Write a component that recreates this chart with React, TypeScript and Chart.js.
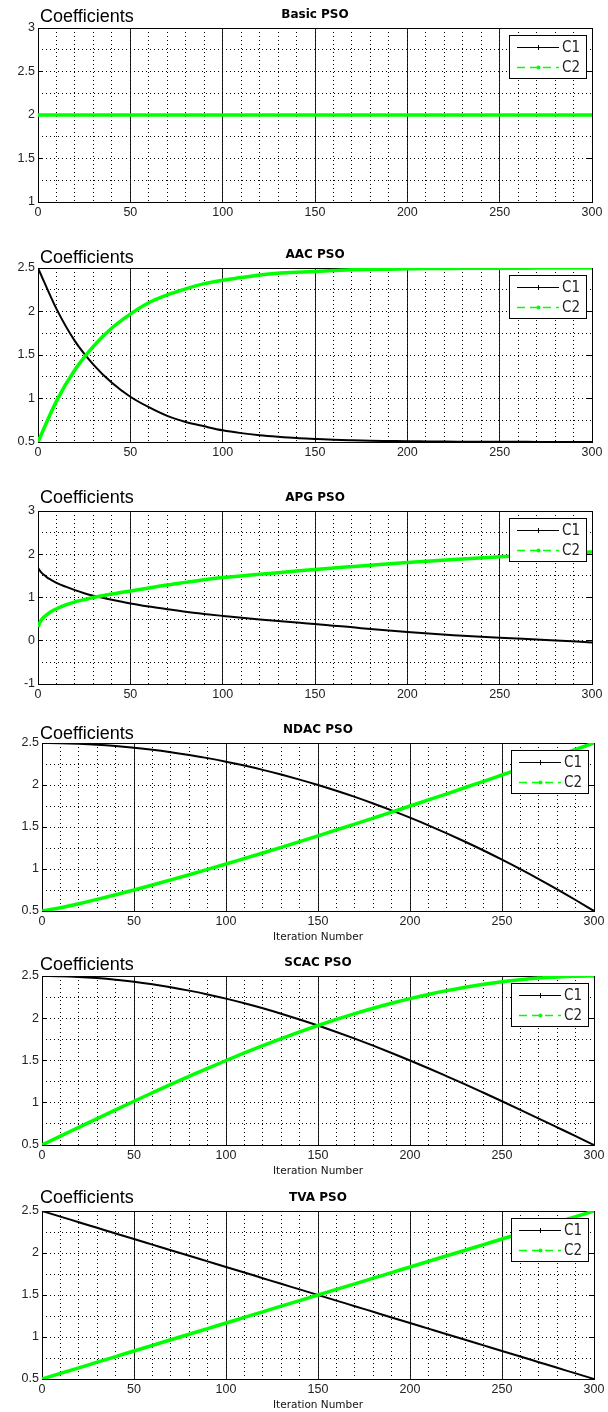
import React, { useEffect, useRef } from "react";
import { Chart, registerables } from "chart.js";

Chart.register(...registerables);

// ---------------- data ----------------
const TITLES = ["Basic PSO", "AAC PSO", "APG PSO", "NDAC PSO", "SCAC PSO", "TVA PSO"];
const SERIES_NAMES = ["C1", "C2"];
const Y_LABEL = "Coefficients";
const X_LABEL = "Iteration Number";

const ITER = [0, 10, 20, 30, 40, 50, 60, 70, 80, 90, 100, 110, 120, 130, 140, 150, 160, 170, 180, 190, 200, 210, 220, 230, 240, 250, 260, 270, 280, 290, 300];

const BASIC_C1 = [2, 2, 2, 2, 2, 2, 2, 2, 2, 2, 2, 2, 2, 2, 2, 2, 2, 2, 2, 2, 2, 2, 2, 2, 2, 2, 2, 2, 2, 2, 2];
const BASIC_C2 = [2, 2, 2, 2, 2, 2, 2, 2, 2, 2, 2, 2, 2, 2, 2, 2, 2, 2, 2, 2, 2, 2, 2, 2, 2, 2, 2, 2, 2, 2, 2];

const AAC_C1 = [2.5, 2.03, 1.66, 1.39, 1.18, 1.02, 0.9, 0.8, 0.73, 0.68, 0.634, 0.602, 0.578, 0.56, 0.545, 0.535, 0.526, 0.52, 0.515, 0.512, 0.509, 0.507, 0.505, 0.504, 0.503, 0.502, 0.502, 0.501, 0.501, 0.501, 0.5];
const AAC_C2 = [0.5, 0.97, 1.33, 1.6, 1.81, 1.97, 2.1, 2.19, 2.26, 2.32, 2.36, 2.39, 2.42, 2.44, 2.45, 2.46, 2.47, 2.48, 2.484, 2.487, 2.49, 2.493, 2.494, 2.496, 2.497, 2.497, 2.498, 2.499, 2.499, 2.499, 2.5];

const APG_ITER = [0, 1, 2, 3, 5, 7, 10, 15, 20, 25, 30, 40, 50, 60, 70, 80, 90, 100, 120, 140, 150, 175, 200, 225, 250, 275, 300];
const APG_C1 = [1.69, 1.62, 1.57, 1.53, 1.46, 1.41, 1.34, 1.25, 1.17, 1.1, 1.04, 0.95, 0.86, 0.79, 0.73, 0.67, 0.62, 0.575, 0.49, 0.42, 0.39, 0.29, 0.2, 0.13, 0.07, 0.02, -0.04];
const APG_C2 = [0.32, 0.42, 0.49, 0.54, 0.61, 0.67, 0.74, 0.83, 0.9, 0.95, 1.0, 1.08, 1.15, 1.22, 1.29, 1.35, 1.41, 1.46, 1.54, 1.61, 1.65, 1.73, 1.81, 1.88, 1.94, 2.0, 2.05];

const NDAC_C1 = [2.5, 2.498, 2.491, 2.48, 2.464, 2.444, 2.42, 2.391, 2.358, 2.32, 2.278, 2.231, 2.18, 2.124, 2.064, 2.0, 1.931, 1.858, 1.78, 1.698, 1.611, 1.52, 1.424, 1.324, 1.22, 1.111, 0.998, 0.88, 0.758, 0.631, 0.5];
const NDAC_C2 = [0.5, 0.539, 0.586, 0.638, 0.693, 0.75, 0.809, 0.87, 0.932, 0.995, 1.059, 1.125, 1.191, 1.258, 1.326, 1.395, 1.465, 1.535, 1.606, 1.677, 1.75, 1.822, 1.895, 1.97, 2.044, 2.119, 2.194, 2.27, 2.346, 2.423, 2.5];

const SCAC_C1 = [2.5, 2.497, 2.489, 2.475, 2.456, 2.432, 2.402, 2.367, 2.327, 2.282, 2.232, 2.177, 2.118, 2.054, 1.986, 1.914, 1.838, 1.759, 1.676, 1.589, 1.5, 1.408, 1.313, 1.217, 1.118, 1.018, 0.916, 0.813, 0.709, 0.605, 0.5];
const SCAC_C2 = [0.5, 0.605, 0.709, 0.813, 0.916, 1.018, 1.118, 1.217, 1.313, 1.408, 1.5, 1.589, 1.676, 1.759, 1.838, 1.914, 1.986, 2.054, 2.118, 2.177, 2.232, 2.282, 2.327, 2.367, 2.402, 2.432, 2.456, 2.475, 2.489, 2.497, 2.5];

const TVA_C1 = [2.5, 2.433, 2.367, 2.3, 2.233, 2.167, 2.1, 2.033, 1.967, 1.9, 1.833, 1.767, 1.7, 1.633, 1.567, 1.5, 1.433, 1.367, 1.3, 1.233, 1.167, 1.1, 1.033, 0.967, 0.9, 0.833, 0.767, 0.7, 0.633, 0.567, 0.5];
const TVA_C2 = [0.5, 0.567, 0.633, 0.7, 0.767, 0.833, 0.9, 0.967, 1.033, 1.1, 1.167, 1.233, 1.3, 1.367, 1.433, 1.5, 1.567, 1.633, 1.7, 1.767, 1.833, 1.9, 1.967, 2.033, 2.1, 2.167, 2.233, 2.3, 2.367, 2.433, 2.5];

// tick values
const X_MAJOR = [0, 50, 100, 150, 200, 250, 300];
const X_MINOR = [0, 10, 20, 30, 40, 50, 60, 70, 80, 90, 100, 110, 120, 130, 140, 150, 160, 170, 180, 190, 200, 210, 220, 230, 240, 250, 260, 270, 280, 290, 300];
const Y_MAJOR_BASIC = [1, 1.5, 2, 2.5, 3];
const Y_MINOR_BASIC = [1, 1.25, 1.5, 1.75, 2, 2.25, 2.5, 2.75, 3];
const Y_MAJOR_STD = [0.5, 1, 1.5, 2, 2.5];
const Y_MINOR_STD = [0.5, 0.75, 1, 1.25, 1.5, 1.75, 2, 2.25, 2.5];
const Y_MAJOR_APG = [-1, 0, 1, 2, 3];
const Y_MINOR_APG = [-1, -0.5, 0, 0.5, 1, 1.5, 2, 2.5, 3];

// ---------------- layout ----------------
const PAD_TOP = 28;
const TICK_FONT = { family: "'Liberation Sans', Arial, sans-serif", size: 12.5 };
const GREEN = "#00ff00";

const PANELS = [
  { title: TITLES[0], iter: ITER, c1: BASIC_C1, c2: BASIC_C2, yMajor: Y_MAJOR_BASIC, yMinor: Y_MINOR_BASIC, plotTop: 28, plotH: 174, left: 38, right: 592, axisH: 22, xTitle: false, coefDy: -6.3 },
  { title: TITLES[1], iter: ITER, c1: AAC_C1, c2: AAC_C2, yMajor: Y_MAJOR_STD, yMinor: Y_MINOR_STD, plotTop: 268, plotH: 174, left: 38, right: 592, axisH: 22, xTitle: false, coefDy: -4.7 },
  { title: TITLES[2], iter: APG_ITER, c1: APG_C1, c2: APG_C2, yMajor: Y_MAJOR_APG, yMinor: Y_MINOR_APG, plotTop: 511, plotH: 173, left: 38, right: 592, axisH: 22, xTitle: false, coefDy: -8 },
  { title: TITLES[3], iter: ITER, c1: NDAC_C1, c2: NDAC_C2, yMajor: Y_MAJOR_STD, yMinor: Y_MINOR_STD, plotTop: 743, plotH: 168, left: 42, right: 594, axisH: 33, xTitle: true, coefDy: -3.7 },
  { title: TITLES[4], iter: ITER, c1: SCAC_C1, c2: SCAC_C2, yMajor: Y_MAJOR_STD, yMinor: Y_MINOR_STD, plotTop: 976, plotH: 169, left: 42, right: 594, axisH: 33, xTitle: true, coefDy: -6 },
  { title: TITLES[5], iter: ITER, c1: TVA_C1, c2: TVA_C2, yMajor: Y_MAJOR_STD, yMinor: Y_MINOR_STD, plotTop: 1211, plotH: 168, left: 42, right: 594, axisH: 33, xTitle: true, coefDy: -7.7 },
];

type PanelDef = (typeof PANELS)[number];

const align = (v: number) => Math.round(v - 0.5) + 0.5;

function makeFramePlugin(p: PanelDef) {
  return {
    id: "matlabFrame",
    beforeDatasetsDraw(chart: any) {
      const { ctx, chartArea: ca } = chart;
      const ys = chart.scales.y;
      ctx.save();
      ctx.setLineDash([]);
      ctx.strokeStyle = "#000";
      ctx.lineWidth = 1;
      ctx.beginPath();
      for (const v of p.yMajor) {
        const py = align(ys.getPixelForValue(v));
        ctx.moveTo(ca.left, py);
        ctx.lineTo(ca.left + 5, py);
        ctx.moveTo(ca.right - 5, py);
        ctx.lineTo(ca.right, py);
      }
      ctx.stroke();
      const L = align(ca.left), R = align(ca.right), T = align(ca.top), B = align(ca.bottom);
      ctx.strokeRect(L, T, R - L, B - T);

      ctx.fillStyle = "#000";
      ctx.textBaseline = "alphabetic";
      ctx.textAlign = "center";
      ctx.font = "bold 12px 'DejaVu Sans', sans-serif";
      ctx.fillText(p.title, (ca.left + ca.right) / 2, ca.top - 10.5);
      ctx.textAlign = "left";
      ctx.font = "18px 'Liberation Sans', Arial, sans-serif";
      ctx.fillText(Y_LABEL, 40, ca.top + p.coefDy);
      ctx.restore();
    },
    afterDatasetsDraw(chart: any) {
      const { ctx, chartArea: ca } = chart;
      const lw = 77, lh = 43;
      const lx = Math.round(ca.right) - 6 - lw;
      const ly = Math.round(ca.top) + 7;
      ctx.save();
      ctx.setLineDash([]);
      ctx.fillStyle = "#fff";
      ctx.fillRect(lx, ly, lw, lh);
      ctx.strokeStyle = "#000";
      ctx.lineWidth = 1;
      ctx.strokeRect(lx + 0.5, ly + 0.5, lw, lh);
      const rows = [
        { y: ly + 12.5, color: "#000", dash: [] as number[], width: 1, marker: "plus", label: SERIES_NAMES[0] },
        { y: ly + 32.5, color: GREEN, dash: [8, 5], width: 1.5, marker: "dot", label: SERIES_NAMES[1] },
      ];
      for (const r of rows) {
        ctx.strokeStyle = r.color;
        ctx.lineWidth = r.width;
        ctx.setLineDash(r.dash);
        ctx.beginPath();
        ctx.moveTo(lx + 8, r.y);
        ctx.lineTo(lx + 50, r.y);
        ctx.stroke();
        ctx.setLineDash([]);
        const mx = lx + 29.5;
        if (r.marker === "plus") {
          ctx.lineWidth = 1;
          ctx.beginPath();
          ctx.moveTo(mx, r.y - 2.5);
          ctx.lineTo(mx, r.y + 2.5);
          ctx.stroke();
        } else {
          ctx.fillStyle = r.color;
          ctx.beginPath();
          ctx.arc(mx, r.y, 2, 0, Math.PI * 2);
          ctx.fill();
        }
        ctx.fillStyle = "#222";
        ctx.font = "15px 'Liberation Sans Narrow', 'DejaVu Sans Condensed', 'Liberation Sans', Arial, sans-serif";
        ctx.textAlign = "left";
        ctx.textBaseline = "middle";
        ctx.fillText(r.label, lx + 53, r.y + 0.5);
      }
      ctx.restore();
    },
  };
}

function Panel({ p }: { p: PanelDef }) {
  const ref = useRef<HTMLCanvasElement | null>(null);
  const h = PAD_TOP + p.plotH + p.axisH;
  const top = p.plotTop - PAD_TOP;

  useEffect(() => {
    if (!ref.current) return;
    const chart = new Chart(ref.current, {
      type: "line",
      data: {
        datasets: [
          {
            label: SERIES_NAMES[0],
            data: p.iter.map((t, i) => ({ x: t, y: p.c1[i] })),
            borderColor: "#000",
            backgroundColor: "#000",
            borderWidth: 2,
            pointRadius: 0,
            cubicInterpolationMode: "monotone",
            order: 2,
            xAxisID: "x",
            yAxisID: "y",
          },
          {
            label: SERIES_NAMES[1],
            data: p.iter.map((t, i) => ({ x: t, y: p.c2[i] })),
            borderColor: GREEN,
            backgroundColor: GREEN,
            borderWidth: 3.5,
            pointRadius: 0,
            cubicInterpolationMode: "monotone",
            order: 1,
            xAxisID: "x",
            yAxisID: "y",
          },
        ],
      },
      options: {
        responsive: false,
        maintainAspectRatio: false,
        animation: false,
        events: [],
        layout: { padding: { top: PAD_TOP, right: 608 - p.right, left: 0, bottom: 0 } },
        plugins: {
          legend: { display: false },
          title: { display: false },
          tooltip: { enabled: false },
        },
        scales: {
          x: {
            type: "linear",
            position: "bottom",
            min: 0,
            max: 300,
            afterBuildTicks: (s: any) => {
              s.ticks = X_MAJOR.map((v) => ({ value: v }));
            },
            ticks: {
              autoSkip: false,
              maxRotation: 0,
              padding: 3,
              color: "#222",
              font: TICK_FONT,
              callback: (v: any) => String(v),
            },
            grid: { color: "#222", lineWidth: 1, drawTicks: false },
            border: { display: false },
            title: {
              display: p.xTitle,
              text: X_LABEL,
              color: "#111",
              font: { family: "'DejaVu Sans', sans-serif", size: 10.5 },
              padding: { top: 0, bottom: 0 },
            },
            afterFit: (s: any) => {
              s.height = p.axisH;
            },
          },
          xm: {
            type: "linear",
            position: "bottom",
            min: 0,
            max: 300,
            afterBuildTicks: (s: any) => {
              s.ticks = X_MINOR.map((v) => ({ value: v }));
            },
            ticks: { display: false },
            grid: { color: "#000", lineWidth: 1, drawTicks: false },
            border: { display: false, dash: [1, 3] },
            afterFit: (s: any) => {
              s.height = 0;
            },
          },
          y: {
            type: "linear",
            position: "left",
            min: p.yMajor[0],
            max: p.yMajor[p.yMajor.length - 1],
            afterBuildTicks: (s: any) => {
              s.ticks = p.yMinor.map((v) => ({ value: v }));
            },
            ticks: {
              autoSkip: false,
              padding: 3,
              color: "#222",
              font: TICK_FONT,
              callback: (v: any) => (p.yMajor.includes(v) ? String(v) : ""),
            },
            grid: { color: "#000", lineWidth: 1, drawTicks: false },
            border: { display: false, dash: [1, 3] },
            afterFit: (s: any) => {
              s.width = p.left;
            },
          },
        },
      } as any,
      plugins: [makeFramePlugin(p)],
    });
    return () => chart.destroy();
  }, []);

  return (
    <canvas
      ref={ref}
      width={608}
      height={h}
      style={{ position: "absolute", left: 0, top, width: 608, height: h, display: "block" }}
    />
  );
}

export default function App() {
  return (
    <div
      style={{
        position: "absolute",
        left: 0,
        top: 0,
        width: 608,
        height: 1412,
        overflow: "hidden",
        background: "#fff",
      }}
    >
      {PANELS.map((p, i) => (
        <Panel key={i} p={p} />
      ))}
    </div>
  );
}
